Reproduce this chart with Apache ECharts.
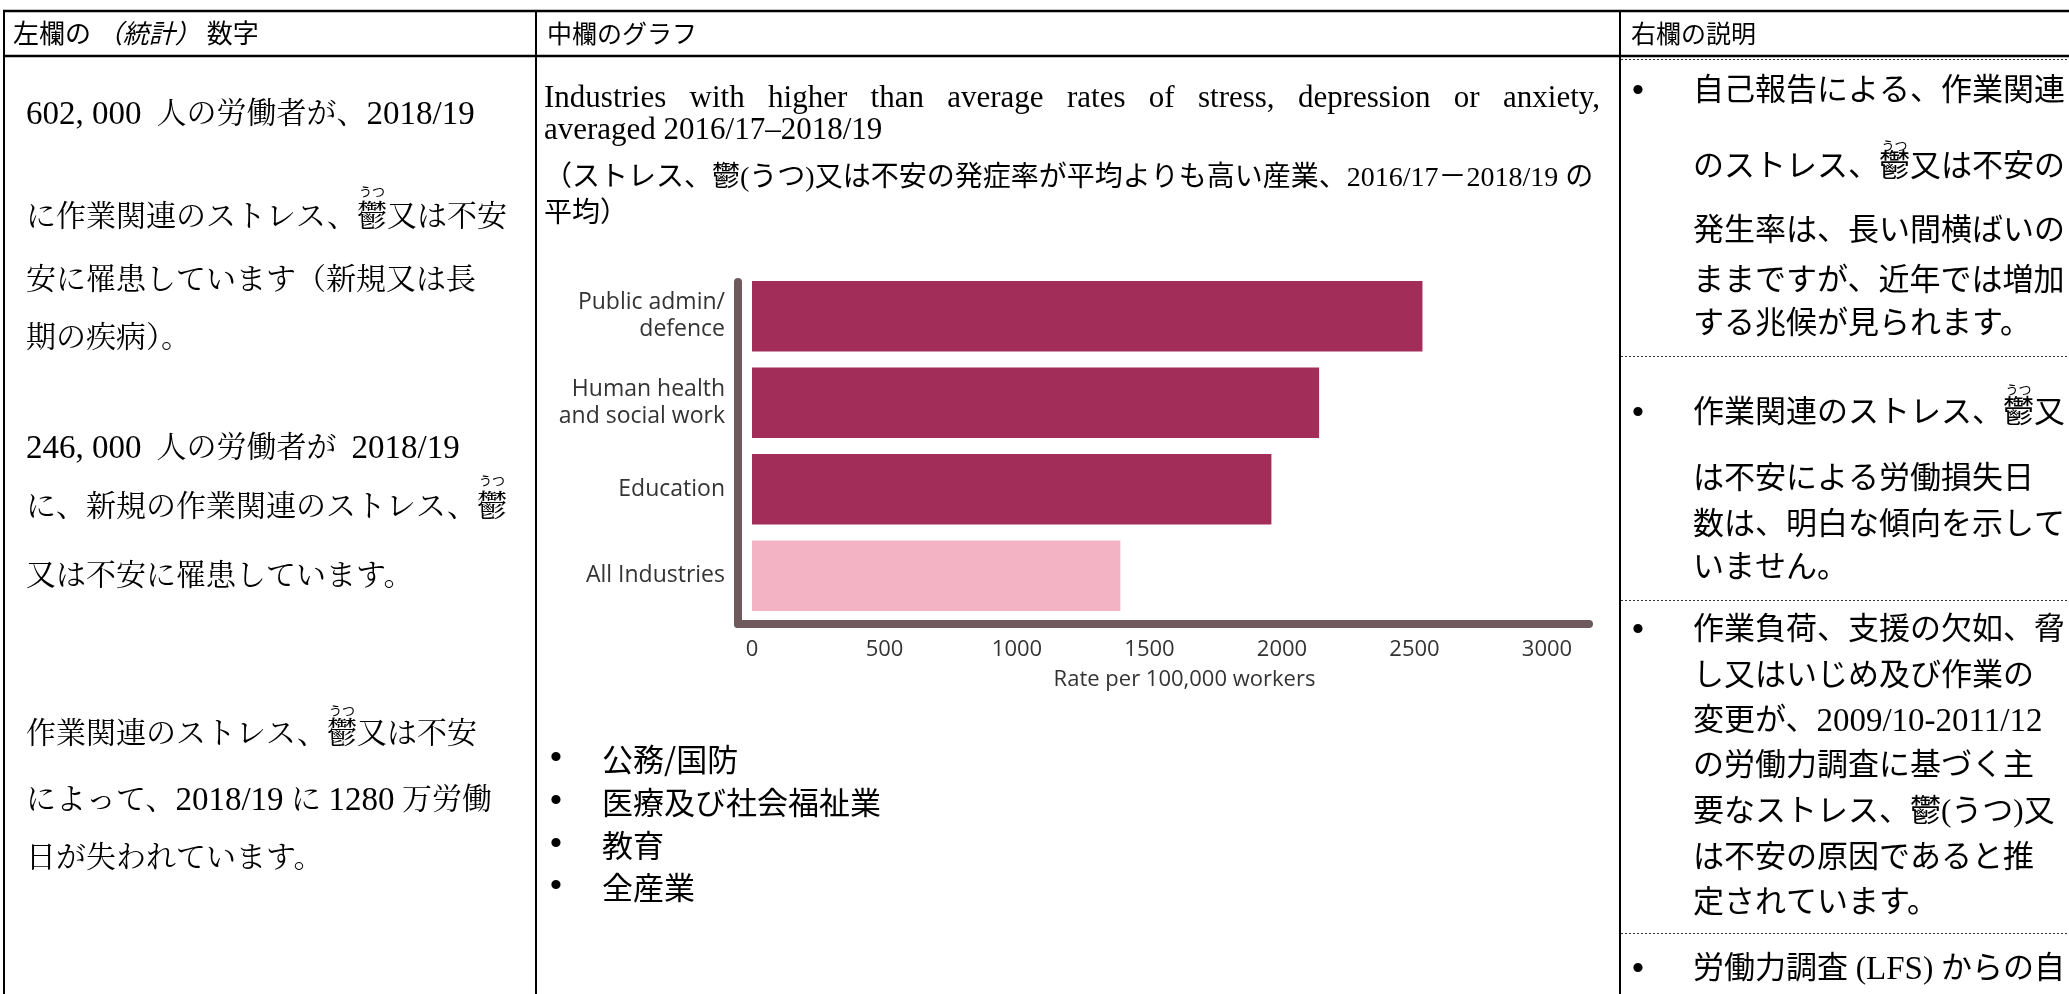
<!DOCTYPE html>
<html>
<head>
<meta charset="utf-8">
<script src="https://cdn.jsdelivr.net/npm/echarts@6/dist/echarts.min.js"></script>
<style>
  html, body { margin: 0; padding: 0; background: #ffffff; }
  #main { width: 2069px; height: 994px; }
</style>
</head>
<body>
<div id="main"></div>
<script>
// ---- Chart data: work-related stress, depression or anxiety by industry ----
const categories = ['Public admin/\ndefence', 'Human health\nand social work', 'Education', 'All Industries'];
const rates = [2530, 2140, 1960, 1390];
const baselineCategory = 'All Industries';
const xMin = 0;
const xMax = 3000;
const xStep = 500;
const axisTitle = 'Rate per 100,000 workers';

// ---- Table text ----
const headerLeft = '左欄の {i|（統計）} 数字';
const headerMiddle = '中欄のグラフ';
const headerRight = '右欄の説明';

const leftLines = [
  '602, 000  人の労働者が、2018/19',
  'に作業関連のストレス、鬱又は不安',
  '安に罹患しています（新規又は長',
  '期の疾病）。',
  '246, 000  人の労働者が  2018/19',
  'に、新規の作業関連のストレス、鬱',
  '又は不安に罹患しています。',
  '作業関連のストレス、鬱又は不安',
  'によって、2018/19 に 1280 万労働',
  '日が失われています。'
];
const leftRubyLines = [1, 5, 7];

const chartTitleLines = [
  'Industries with higher than average rates of stress, depression or anxiety,',
  'averaged 2016/17–2018/19',
  '（ストレス、鬱(うつ)又は不安の発症率が平均よりも高い産業、2016/17－2018/19 の',
  '平均）'
];
const justifiedTitleLines = [0];

const industryBullets = ['公務/国防', '医療及び社会福祉業', '教育', '全産業'];

const rightBlocks = [
  ['自己報告による、作業関連', 'のストレス、鬱又は不安の', '発生率は、長い間横ばいの', 'ままですが、近年では増加', 'する兆候が見られます。'],
  ['作業関連のストレス、鬱又', 'は不安による労働損失日', '数は、明白な傾向を示して', 'いません。'],
  ['作業負荷、支援の欠如、脅', 'し又はいじめ及び作業の', '変更が、2009/10-2011/12', 'の労働力調査に基づく主', '要なストレス、鬱(うつ)又', 'は不安の原因であると推', '定されています。'],
  ['労働力調査 (LFS) からの自']
];
const rightRubyLines = [[0, 1], [1, 0]];
const rubyText = 'うつ';

// ---- Layout ----
const W = 2069, H = 994;
const COL_X = [4, 536, 1620];
const TOP_Y = 11, HEADER_Y = 56;

const leftY = [115, 218, 281, 339, 449, 508, 577, 735, 801, 859];
const leftRubyY = [191, 480, 710];
const midTitleX = 544, midTitleRight = 1600;
const midTitleY = [99, 131, 179, 215];
const midBulletY = [759, 802, 845, 887];
const rightY = [
  [92, 168, 232, 282, 325],
  [414, 480, 526, 569],
  [631, 677, 722, 767, 813, 859, 904],
  [970]
];
const rightRubyY = [145, 389];
const rightDashY = [59, 356, 600, 933];

const FONT_HEADER_L = '26px "Noto Sans CJK JP"';
const FONT_HEADER = '25px "Noto Sans CJK JP"';
const FONT_LEFT = '30px "Liberation Serif", "Noto Serif CJK JP", "Noto Sans CJK JP"';
const FONT_LATIN_BIG = '33px "Liberation Serif"';
const FONT_MID_EN = '31px "Liberation Serif"';
const FONT_MID_JA = '28px "Liberation Serif", "Noto Sans CJK JP"';
const FONT_BULLET_ITEM = '31px "Noto Sans CJK JP"';
const FONT_RIGHT = '31px "Liberation Serif", "Noto Sans CJK JP"';
const FONT_RUBY = '13px "Noto Sans CJK JP"';
const FONT_DOT = '34px "Liberation Sans"';

const BAR_DARK = '#a22d58';
const BAR_LIGHT = '#f4b3c5';
const AXIS_COLOR = '#6e5a5c';
const LABEL_COLOR = '#333333';

const measureCtx = document.createElement('canvas').getContext('2d');
function measure(str, font) {
  measureCtx.font = font;
  return measureCtx.measureText(str).width;
}

// Latin runs (numbers, abbreviations) are set a little larger, as in the document body
function withLatinRuns(line) {
  return line.replace(/[0-9A-Z][0-9A-Z,\/\- ]*[0-9A-Z]|[0-9]/g, function (m) { return '{n|' + m + '}'; });
}

function textEl(text, x, y, font, extra) {
  return {
    type: 'text', x: x, y: y, silent: true,
    style: Object.assign({
      text: text, font: font, fill: '#000000',
      align: 'left', verticalAlign: 'middle',
      textAlign: 'left', textVerticalAlign: 'middle'
    }, extra || {})
  };
}

function bodyTextEl(line, x, y, font) {
  return textEl(withLatinRuns(line), x, y, font, {
    rich: { n: { font: FONT_LATIN_BIG, fill: '#000000' } }
  });
}

// a full-width justified line: words spread evenly between the column margins
function justifiedLine(line, x1, x2, y, font) {
  const words = line.split(' ');
  const widths = words.map(function (w) { return measure(w, font); });
  const total = widths.reduce(function (a, b) { return a + b; }, 0);
  const gap = (x2 - x1 - total) / Math.max(1, words.length - 1);
  let cx = x1;
  return words.map(function (w, i) {
    const el = textEl(w, cx, y, font);
    cx += widths[i] + gap;
    return el;
  });
}

function rubyEl(line, x, rubyY, font) {
  const idx = line.indexOf('鬱');
  const pre = measure(line.slice(0, idx), font);
  const w = measure('鬱', font);
  return textEl(rubyText, x + pre + w / 2, rubyY, FONT_RUBY, { align: 'center', textAlign: 'center' });
}

function hLine(x1, x2, y, width, dash, color) {
  return {
    type: 'line', silent: true,
    shape: { x1: x1, y1: y, x2: x2, y2: y },
    style: { stroke: color || '#000000', lineWidth: width, lineDash: dash || null }
  };
}
function vLine(x, y1, y2, width) {
  return {
    type: 'line', silent: true,
    shape: { x1: x, y1: y1, x2: x, y2: y2 },
    style: { stroke: '#000000', lineWidth: width }
  };
}

const elements = [];

// table rules
elements.push(hLine(COL_X[0] - 1, W, TOP_Y, 2.5));
elements.push(hLine(COL_X[0] - 1, W, HEADER_Y, 2.5));
COL_X.forEach(function (x) { elements.push(vLine(x, TOP_Y - 1, H, 2)); });
rightDashY.forEach(function (y) { elements.push(hLine(COL_X[2] + 1, W, y + 0.5, 1, [2, 2], '#333333')); });

// header row
elements.push(textEl(headerLeft, 13, 33, FONT_HEADER_L, {
  rich: { i: { font: 'italic 26px "Noto Sans CJK JP"', fill: '#000000' } }
}));
elements.push(textEl(headerMiddle, 547, 33, FONT_HEADER));
elements.push(textEl(headerRight, 1631, 33, FONT_HEADER));

// left column
leftLines.forEach(function (line, i) {
  elements.push(bodyTextEl(line, 26, leftY[i], FONT_LEFT));
});
leftRubyLines.forEach(function (li, k) {
  elements.push(rubyEl(leftLines[li], 26, leftRubyY[k], FONT_LEFT));
});

// middle column: chart title
chartTitleLines.forEach(function (line, i) {
  const font = i < 2 ? FONT_MID_EN : FONT_MID_JA;
  if (justifiedTitleLines.indexOf(i) >= 0) {
    justifiedLine(line, midTitleX, midTitleRight, midTitleY[i], font).forEach(function (el) { elements.push(el); });
  } else {
    elements.push(textEl(line, midTitleX, midTitleY[i], font));
  }
});

// middle column: industry list
industryBullets.forEach(function (item, i) {
  elements.push(textEl('•', 556, midBulletY[i], FONT_DOT, { align: 'center', textAlign: 'center' }));
  elements.push(textEl(item, 602, midBulletY[i], FONT_BULLET_ITEM));
});

// right column
rightBlocks.forEach(function (block, b) {
  elements.push(textEl('•', 1638, rightY[b][0], FONT_DOT, { align: 'center', textAlign: 'center' }));
  block.forEach(function (line, i) {
    elements.push(bodyTextEl(line, 1693, rightY[b][i], FONT_RIGHT));
  });
});
rightRubyLines.forEach(function (pair, k) {
  elements.push(rubyEl(rightBlocks[pair[0]][pair[1]], 1693, rightRubyY[k], FONT_RIGHT));
});

const chart = echarts.init(document.getElementById('main'), null, { width: W, height: H, renderer: 'canvas' });

const option = {
  backgroundColor: '#ffffff',
  animation: false,
  grid: [
    { left: 752, top: 273, width: 795, height: 346, containLabel: false, outerBoundsMode: 'none' },
    { left: 738, top: 282, width: 851, height: 342, containLabel: false, outerBoundsMode: 'none' }
  ],
  xAxis: [
    {
      type: 'value', gridIndex: 0, min: xMin, max: xMax, interval: xStep,
      axisLine: { show: false }, axisTick: { show: false }, splitLine: { show: false },
      axisLabel: {
        margin: 20, color: LABEL_COLOR, fontFamily: 'Open Sans', fontSize: 22,
        formatter: function (v) { return String(v); }
      },
      name: axisTitle, nameLocation: 'middle', nameGap: 50,
      nameTextStyle: { color: LABEL_COLOR, fontFamily: 'Open Sans', fontSize: 22, padding: [0, 0, 0, 70] }
    },
    {
      type: 'value', gridIndex: 1, min: 0, max: 1,
      axisLine: { show: true, onZero: false, lineStyle: { color: AXIS_COLOR, width: 8, cap: 'round' } },
      axisTick: { show: false }, axisLabel: { show: false }, splitLine: { show: false }
    }
  ],
  yAxis: [
    {
      type: 'category', gridIndex: 0, data: categories, inverse: true,
      axisLine: { show: false }, axisTick: { show: false }, splitLine: { show: false },
      axisLabel: { margin: 27, color: LABEL_COLOR, fontFamily: 'Open Sans', fontSize: 23, lineHeight: 27, align: 'right' }
    },
    {
      type: 'value', gridIndex: 1, min: 0, max: 1,
      axisLine: { show: true, onZero: false, lineStyle: { color: AXIS_COLOR, width: 8, cap: 'round' } },
      axisTick: { show: false }, axisLabel: { show: false }, splitLine: { show: false }
    }
  ],
  series: [{
    type: 'bar', xAxisIndex: 0, yAxisIndex: 0, silent: true,
    barCategoryGap: '18.5%',
    data: rates.map(function (v, i) {
      return { value: v, itemStyle: { color: categories[i] === baselineCategory ? BAR_LIGHT : BAR_DARK } };
    })
  }],
  graphic: { elements: elements }
};

chart.setOption(option);
</script>
</body>
</html>
